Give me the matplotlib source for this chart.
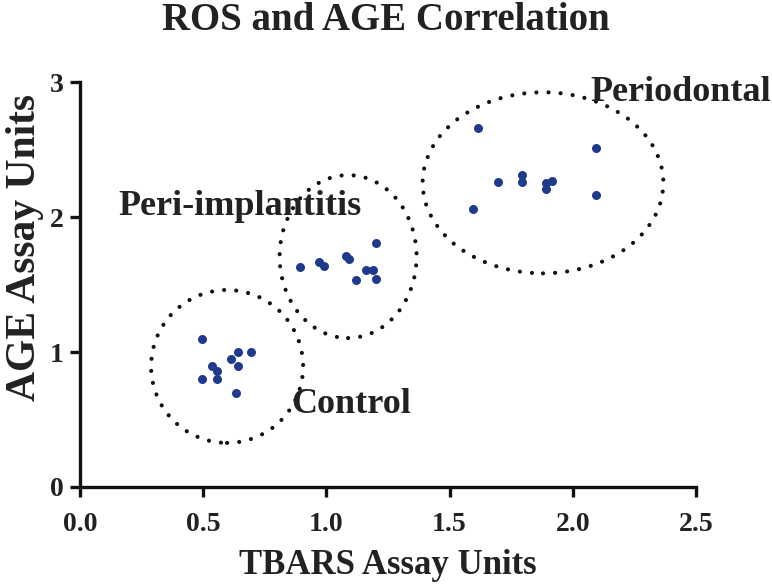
import matplotlib
matplotlib.use("Agg")
import matplotlib.pyplot as plt
from matplotlib.patches import Ellipse

plt.rcParams['font.family'] = ['Liberation Serif', 'DejaVu Serif']

# Data
control_x = [0.494, 0.643, 0.693, 0.613, 0.534, 0.643, 0.555, 0.494, 0.555, 0.633]
control_y = [1.10, 1.00, 1.00, 0.95, 0.90, 0.90, 0.86, 0.80, 0.80, 0.70]
peri_impl_x = [0.892, 0.970, 0.990, 1.080, 1.090, 1.200, 1.159, 1.190, 1.120, 1.200]
peri_impl_y = [1.63, 1.67, 1.64, 1.71, 1.69, 1.81, 1.61, 1.61, 1.53, 1.54]
periodontal_x = [1.617, 1.696, 1.795, 1.795, 1.892, 1.892, 1.916, 2.093, 2.093, 1.596]
periodontal_y = [2.66, 2.26, 2.31, 2.26, 2.25, 2.21, 2.27, 2.51, 2.16, 2.06]

group_names = ["Control", "Peri-implantitis", "Periodontal"]
# ellipse centre (x, y), width, height in data units
ellipse_centers = [(0.597, 0.893), (1.088, 1.707), (1.879, 2.253)]
ellipse_widths = [0.617, 0.556, 0.977]
ellipse_heights = [1.133, 1.207, 1.341]
label_pos = [(0.857, 0.548), (0.155, 2.015), (2.07, 2.86)]

x_ticks = [0.0, 0.5, 1.0, 1.5, 2.0, 2.5]
x_ticklabels = ["0.0", "0.5", "1.0", "1.5", "2.0", "2.5"]
y_ticks = [0, 1, 2, 3]
y_ticklabels = ["0", "1", "2", "3"]

fig = plt.figure(figsize=(7.72, 5.85), dpi=100)
ax = fig.add_axes([80/772, 98/585, 616/772, 405/585])

dot_color = '#1f3a8c'
for xs, ys in [(control_x, control_y), (peri_impl_x, peri_impl_y), (periodontal_x, periodontal_y)]:
    ax.scatter(xs, ys, s=42, color=dot_color, zorder=3, linewidths=0, clip_on=False)

for (cx, cy), w, h in zip(ellipse_centers, ellipse_widths, ellipse_heights):
    e = Ellipse((cx, cy), w, h, fill=False, edgecolor='#111111', linewidth=3.0,
                linestyle=(0, (0.01, 2.9)), capstyle='round', clip_on=False)
    ax.add_patch(e)

for name, (lx, ly) in zip(group_names, label_pos):
    ax.text(lx, ly, name, fontsize=26, fontweight='bold', color='#222222',
            ha='left', va='baseline', clip_on=False)

ax.set_xlim(0, 2.5)
ax.set_ylim(0, 3)
ax.set_xticks(x_ticks)
ax.set_xticklabels(x_ticklabels)
ax.set_yticks(y_ticks)
ax.set_yticklabels(y_ticklabels)

for sp in ['top', 'right']:
    ax.spines[sp].set_visible(False)
for sp in ['left', 'bottom']:
    ax.spines[sp].set_linewidth(2.4)
    ax.spines[sp].set_color('#111111')
ax.tick_params(axis='both', length=7, width=2.4, color='#111111', labelsize=20)
ax.tick_params(axis='x', pad=11)
ax.tick_params(axis='y', pad=5)
for lab in ax.get_xticklabels() + ax.get_yticklabels():
    lab.set_fontweight('bold')
    lab.set_color('#222222')

ax.set_xlabel("TBARS Assay Units", fontsize=25, fontweight='bold', color='#222222')
ax.xaxis.set_label_coords(0.5, -(582 - 487) / 405, transform=ax.transAxes)
ax.xaxis.label.set_va('bottom')
ax.set_ylabel("AGE Assay Units", fontsize=30, fontweight='bold', color='#222222')
ax.yaxis.set_label_coords(-(80 - 6) / 616, (487 - 247) / 405, transform=ax.transAxes)
ax.yaxis.label.set_va('top')
fig.text(0.50, 0.965, "ROS and AGE Correlation", fontsize=28, fontweight='bold',
         color='#222222', ha='center', va='center')

fig.savefig("out.png", dpi=100)
